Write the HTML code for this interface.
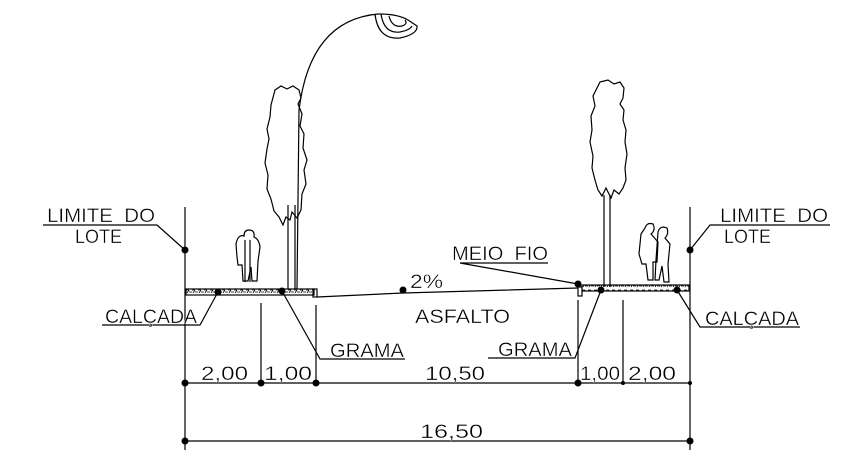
<!DOCTYPE html>
<html><head><meta charset="utf-8"><style>
html,body{margin:0;padding:0;background:#fff;width:859px;height:466px;overflow:hidden}
svg{display:block}
text{font-family:"Liberation Sans",sans-serif;font-size:19px;fill:#000;stroke:#fff;stroke-width:0.35px}
</style></head><body>
<svg width="859" height="466" viewBox="0 0 859 466" xmlns="http://www.w3.org/2000/svg">
<defs>
<pattern id="hat" width="6" height="6" patternUnits="userSpaceOnUse">
<rect width="6" height="6" fill="#fff"/><path d="M0 2h3M3 4h3M1 5l2-3" stroke="#000" stroke-width="0.8"/>
</pattern>
</defs>
<g stroke="#000" stroke-width="1.2" fill="none">
<line x1="185" y1="207" x2="185" y2="450"/>
<line x1="690" y1="207" x2="690" y2="450"/>
<rect x="186" y="289" width="128" height="6" fill="url(#hat)"/>
<rect x="313" y="289" width="4" height="8"/>
<rect x="578" y="287" width="4" height="9"/>
<rect x="582" y="285" width="107" height="6" fill="url(#hat)"/>
<polyline points="317,297 403,293 578,288"/>
<line x1="261" y1="303" x2="261" y2="385"/>
<line x1="316" y1="305" x2="316" y2="385"/>
<line x1="578" y1="300" x2="578" y2="385"/>
<line x1="623" y1="300" x2="623" y2="385"/>
<line x1="185" y1="383" x2="690" y2="383"/>
<line x1="185" y1="441" x2="690" y2="441"/>
<polyline points="43,225 157,225 185,250"/>
<polyline points="830,225 710,225 690,250"/>
<polyline points="102,325 200,325 218,292"/>
<polyline points="405,359 320,359 282,291"/>
<polyline points="548,263 460,263 578,284" />
<polyline points="488,358 575,358 601,290"/>
<polyline points="800,327 700,327 677,290"/>
<path d="M275,90 l6,-4 6,3 6,-3 6,4 2,8 -3,6 4,10 -2,12 4,8 -1,14 4,12 -3,10 2,14 -4,10 -1,16 -4,8 -5,-6 -2,8 -4,-3 -3,8 -4,-8 -5,-6 -3,-12 -4,-10 1,-14 -3,-12 2,-14 2,-10 -2,-10 3,-12 1,-12 z"/>
<line x1="288" y1="205" x2="288" y2="289"/><line x1="295" y1="205" x2="295" y2="289"/>
<path d="M600,82 l8,-2 6,4 6,-2 4,6 -1,10 -3,6 4,6 -1,10 3,10 -1,12 2,12 -2,14 1,12 -3,8 -4,6 -5,-4 -3,8 -5,-10 -4,8 -4,-6 -3,-10 -3,-12 1,-12 -3,-14 2,-12 -1,-14 4,-10 -2,-10 z"/>
<line x1="604" y1="195" x2="604" y2="287"/><line x1="610" y1="195" x2="610" y2="287"/>
<path d="M297,289 L299,110 Q310,20 378,14"/>
<path d="M375,14 Q378,40 400,38 Q418,34 417,26 L408,20 Q398,14 378,14"/>
<path d="M381,14 Q384,34 400,32 Q410,30 412,26"/>
<path d="M389,16 Q392,28 402,26 Q408,24 405,20"/>
<path d="M236,244 q2,-10 8,-8 q0,-6 5,-6 q6,0 5,7 q5,2 6,10 l-2,14 -1,20 -5,0 -1,-14 -3,14 -5,0 -1,-16 -4,0 -1,-8 z"/>
<path d="M245,240 l0,42 M250,240 l0,42"/>
<path d="M645,228 q2,-6 8,-4 q3,6 -2,10 l7,8 -1,20 -4,0 0,18 -5,0 -2,-16 -4,0 -3,-10 2,-20 z"/>
<path d="M658,232 q2,-7 9,-4 q2,6 -2,10 l5,6 -2,20 1,18 -5,0 -2,-16 -3,14 -4,0 1,-20 z"/>
</g>
<g fill="#000">
<circle cx="185" cy="250" r="3.5"/><circle cx="690" cy="250" r="3.5"/>
<circle cx="218" cy="292" r="3.5"/><circle cx="282" cy="291" r="3.5"/>
<circle cx="403" cy="290" r="3.5"/><circle cx="578" cy="284" r="3.5"/>
<circle cx="601" cy="290" r="3.5"/><circle cx="677" cy="290" r="3.5"/>
<circle cx="185" cy="383" r="3.5"/><circle cx="261" cy="383" r="3.5"/>
<circle cx="316" cy="383" r="3.5"/><circle cx="578" cy="383" r="3.5"/>
<circle cx="623" cy="383" r="2"/><circle cx="690" cy="383" r="2"/>
<circle cx="185" cy="441" r="3.5"/><circle cx="690" cy="441" r="3.5"/>
</g>
<g>
<text x="47" y="222" textLength="108" lengthAdjust="spacingAndGlyphs">LIMITE&#160;&#160;DO</text>
<text x="75" y="243" textLength="47" lengthAdjust="spacingAndGlyphs">LOTE</text>
<text x="720" y="222" textLength="108" lengthAdjust="spacingAndGlyphs">LIMITE&#160;&#160;DO</text>
<text x="724" y="243" textLength="47" lengthAdjust="spacingAndGlyphs">LOTE</text>
<text x="105" y="323" textLength="92" lengthAdjust="spacingAndGlyphs">CALÇADA</text>
<text x="705" y="325" textLength="94" lengthAdjust="spacingAndGlyphs">CALÇADA</text>
<text x="330" y="357" textLength="74" lengthAdjust="spacingAndGlyphs">GRAMA</text>
<text x="498" y="356" textLength="74" lengthAdjust="spacingAndGlyphs">GRAMA</text>
<text x="452" y="260" textLength="96" lengthAdjust="spacingAndGlyphs">MEIO&#160;&#160;FIO</text>
<text x="415" y="323" textLength="95" lengthAdjust="spacingAndGlyphs">ASFALTO</text>
<text x="410" y="288" textLength="33" lengthAdjust="spacingAndGlyphs">2%</text>
<text x="201" y="380" textLength="47" lengthAdjust="spacingAndGlyphs">2,00</text>
<text x="264" y="380" textLength="48" lengthAdjust="spacingAndGlyphs">1,00</text>
<text x="425" y="380" textLength="60" lengthAdjust="spacingAndGlyphs">10,50</text>
<text x="580" y="380" textLength="40" lengthAdjust="spacingAndGlyphs">1,00</text>
<text x="628" y="380" textLength="48" lengthAdjust="spacingAndGlyphs">2,00</text>
<text x="420" y="438" textLength="63" lengthAdjust="spacingAndGlyphs">16,50</text>
</g>
</svg>
</body></html>
